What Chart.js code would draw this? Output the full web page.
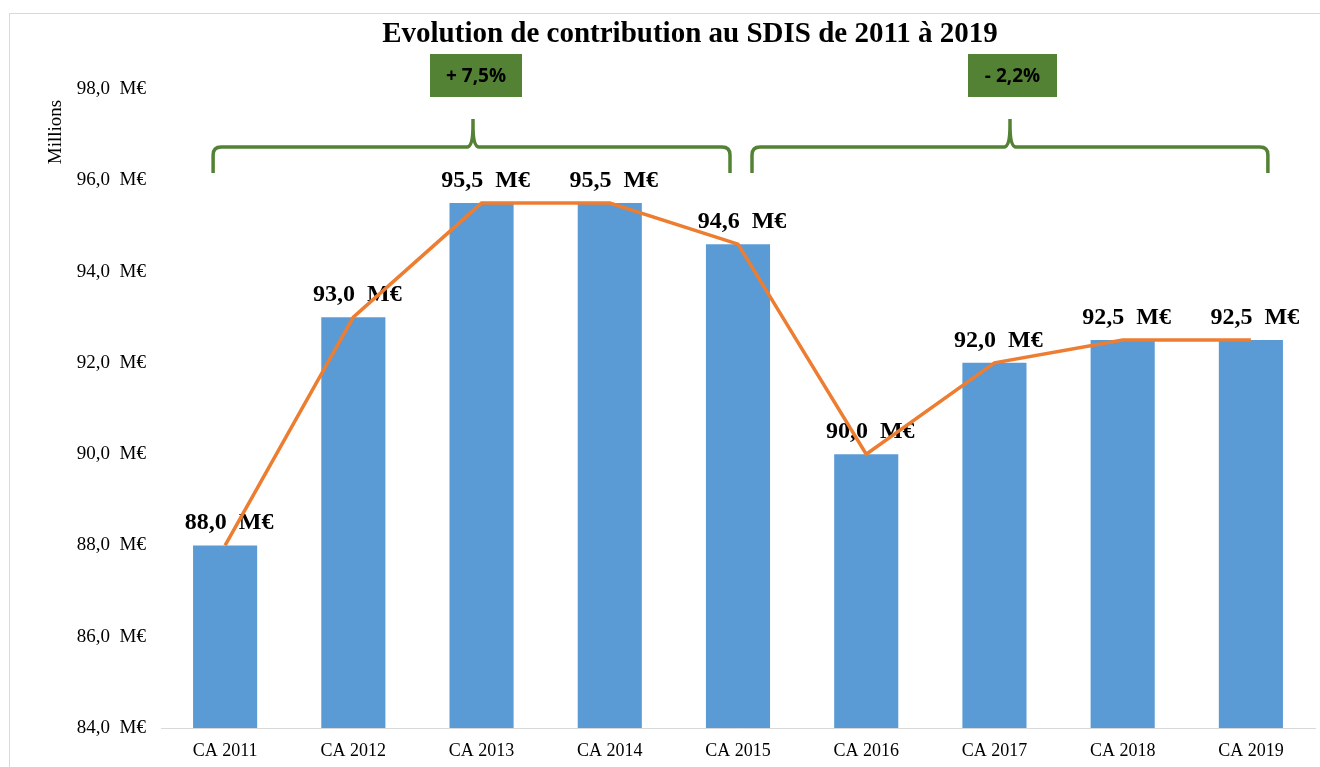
<!DOCTYPE html>
<html>
<head>
<meta charset="utf-8">
<script src="https://cdn.jsdelivr.net/npm/chart.js@4/dist/chart.umd.min.js"></script>
<style>
  html, body { margin: 0; padding: 0; background: #fff; }
  #wrap { width: 1320px; height: 767px; position: relative; }
</style>
</head>
<body>
<div id="wrap"><canvas id="sdisChart" width="1320" height="767"></canvas></div>
<script>
// Contribution au SDIS 2011-2019 (en millions d'euros)
const categories = ['CA 2011', 'CA 2012', 'CA 2013', 'CA 2014', 'CA 2015', 'CA 2016', 'CA 2017', 'CA 2018', 'CA 2019'];
const contributions = [88.0, 93.0, 95.5, 95.5, 94.6, 90.0, 92.0, 92.5, 92.5];
const yTicks = [84, 86, 88, 90, 92, 94, 96, 98];
const titleText = 'Evolution de contribution au SDIS de 2011 à 2019';
const yAxisTitle = 'Millions';
const evolutions = ['+ 7,5%', '- 2,2%'];

const BLUE = '#5B9BD5';
const ORANGE = '#ED7D31';
const GREEN = '#548235';
const SERIF = '"Liberation Serif", "Times New Roman", serif';

function euro(v) {
    return v.toFixed(1).replace('.', ',') + '  M€';
}

// brackets: from category index + px offset, to category index + px offset
const brackets = [
    { from: 0, dxFrom: -12, to: 4, dxTo: -8, tip: 473, box: [430, 54, 92, 43], text: evolutions[0] },
    { from: 4, dxFrom: 14, to: 8, dxTo: 17, tip: 1010, box: [968, 54, 89, 43], text: evolutions[1] }
];

const decorPlugin = {
    id: 'decor',
    beforeDraw(chart) {
        const ctx = chart.ctx;
        ctx.save();
        ctx.strokeStyle = '#d9d9d9';
        ctx.lineWidth = 1;
        ctx.strokeRect(9.5, 13.5, 1330, 800);
        ctx.restore();
    },
    afterDatasetDraw(chart, args) {
        // value labels on top of bars, under the line
        if (args.index !== 1) return;
        const ctx = chart.ctx;
        const meta = chart.getDatasetMeta(1);
        ctx.save();
        ctx.font = 'bold 24px ' + SERIF;
        ctx.fillStyle = '#000';
        ctx.textAlign = 'center';
        ctx.textBaseline = 'alphabetic';
        meta.data.forEach((bar, i) => {
            ctx.fillText(euro(contributions[i]), bar.x + 4, bar.y - 16);
        });
        ctx.restore();
    },
    afterDraw(chart) {
        const ctx = chart.ctx;
        const x = chart.scales.x;
        ctx.save();

        // title
        ctx.font = 'bold 29px ' + SERIF;
        ctx.fillStyle = '#000';
        ctx.textAlign = 'center';
        ctx.textBaseline = 'middle';
        ctx.fillText(titleText, 690, 35);

        // y axis title
        ctx.save();
        ctx.translate(56, 132);
        ctx.rotate(-Math.PI / 2);
        ctx.font = '19px ' + SERIF;
        ctx.fillText(yAxisTitle, 0, 0);
        ctx.restore();

        // brackets and boxes
        brackets.forEach(b => {
            const x0 = x.getPixelForValue(b.from) + b.dxFrom;
            const x1 = x.getPixelForValue(b.to) + b.dxTo;
            const yLine = 147, yEnd = 173, yTip = 119, r = 8;
            ctx.strokeStyle = GREEN;
            ctx.lineWidth = 3.5;
            ctx.beginPath();
            ctx.moveTo(x0, yEnd);
            ctx.lineTo(x0, yLine + r);
            ctx.quadraticCurveTo(x0, yLine, x0 + r, yLine);
            ctx.lineTo(b.tip - 6, yLine);
            ctx.quadraticCurveTo(b.tip, yLine, b.tip, yTip + 6);
            ctx.lineTo(b.tip, yTip);
            ctx.moveTo(b.tip, yTip + 6);
            ctx.quadraticCurveTo(b.tip, yLine, b.tip + 6, yLine);
            ctx.lineTo(x1 - r, yLine);
            ctx.quadraticCurveTo(x1, yLine, x1, yLine + r);
            ctx.lineTo(x1, yEnd);
            ctx.stroke();

            const [bx, by, bw, bh] = b.box;
            ctx.fillStyle = GREEN;
            ctx.fillRect(bx, by, bw, bh);
            ctx.fillStyle = '#000';
            ctx.font = 'bold 19px "Open Sans", "Liberation Sans", sans-serif';
            ctx.textAlign = 'center';
            ctx.textBaseline = 'middle';
            ctx.fillText(b.text, bx + bw / 2, by + bh / 2 + 1);
        });
        ctx.restore();
    }
};

new Chart(document.getElementById('sdisChart'), {
    data: {
        labels: categories,
        datasets: [
            {
                type: 'line',
                data: contributions,
                borderColor: ORANGE,
                borderWidth: 3.5,
                pointRadius: 0,
                tension: 0,
                order: 0
            },
            {
                type: 'bar',
                data: contributions,
                backgroundColor: BLUE,
                categoryPercentage: 0.5,
                barPercentage: 1,
                order: 1
            }
        ]
    },
    options: {
        responsive: false,
        animation: false,
        layout: { padding: { top: 89, right: 5, bottom: 0, left: 0 } },
        plugins: {
            legend: { display: false },
            tooltip: { enabled: false },
            title: { display: false }
        },
        scales: {
            x: {
                grid: { display: false },
                border: { display: true, color: '#d9d9d9', width: 1 },
                ticks: { color: '#000', font: { family: SERIF, size: 18 }, padding: 4, maxRotation: 0 },
                afterFit(scale) { scale.height = 39; }
            },
            y: {
                min: 84,
                max: 98,
                grid: { display: false },
                border: { display: false },
                afterBuildTicks(scale) { scale.ticks = yTicks.map(v => ({ value: v })); },
                ticks: {
                    color: '#000',
                    font: { family: SERIF, size: 19 },
                    padding: 7,
                    callback: v => euro(v)
                },
                afterFit(scale) { scale.width = 161; }
            }
        }
    },
    plugins: [decorPlugin]
});
</script>
</body>
</html>
